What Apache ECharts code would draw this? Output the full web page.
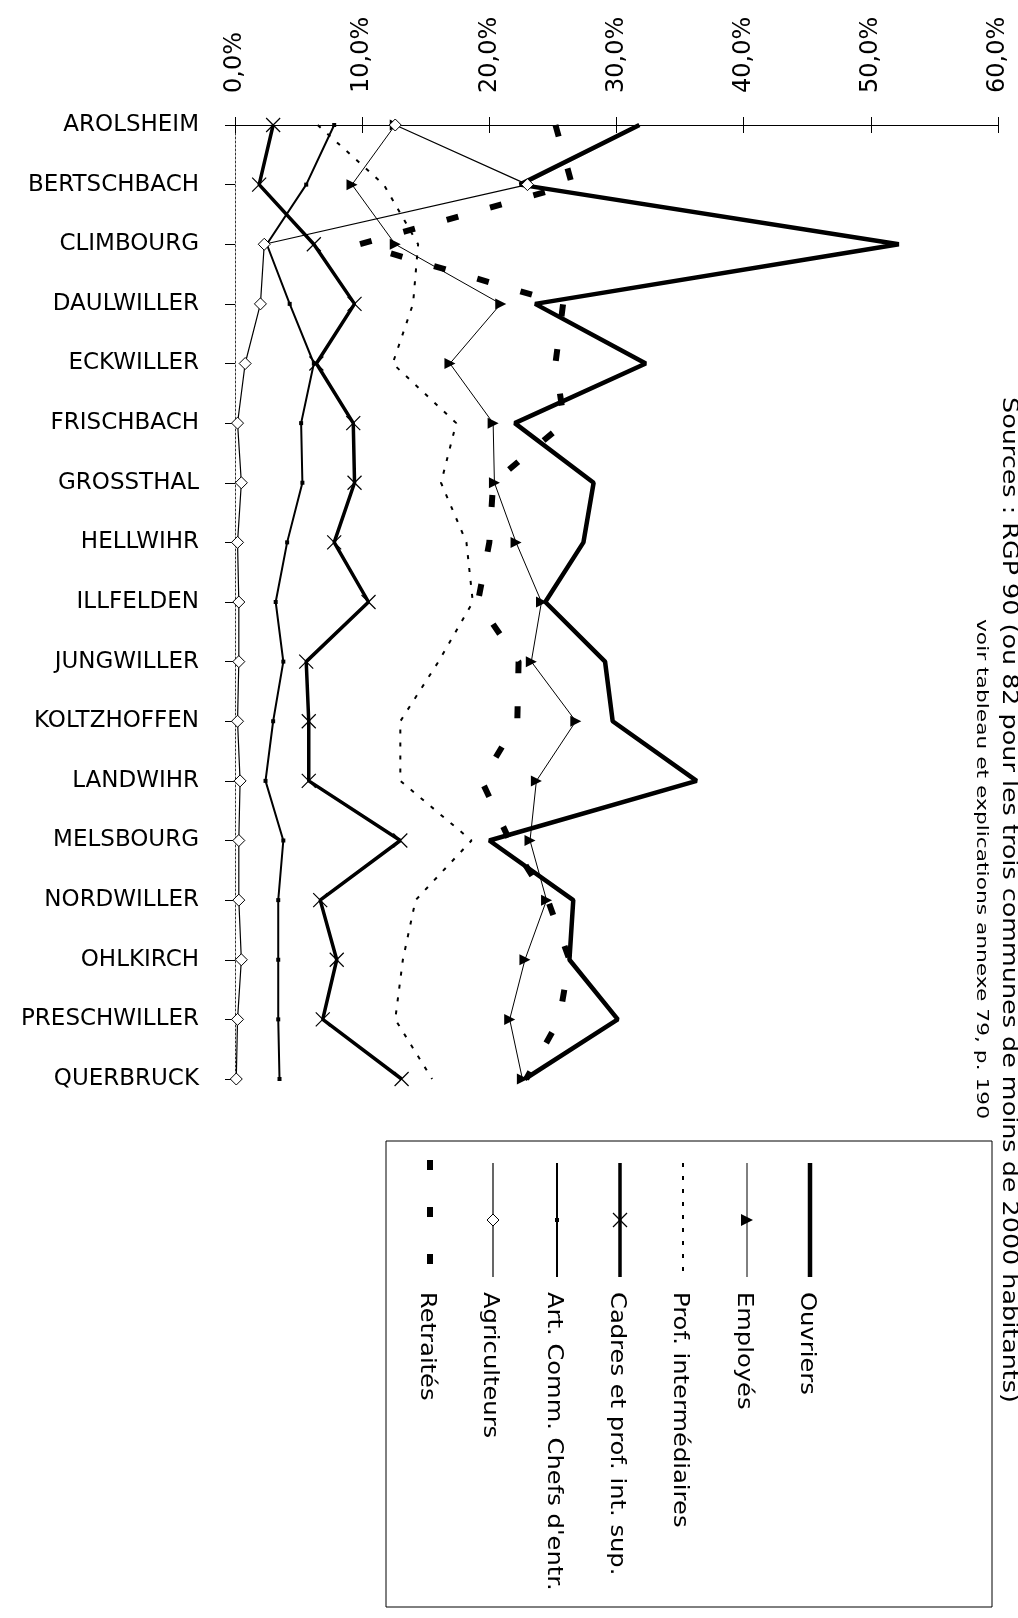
<!DOCTYPE html>
<html><head><meta charset="utf-8">
<script src="https://cdn.jsdelivr.net/npm/echarts/dist/echarts.min.js"></script>
<style>html,body{margin:0;padding:0;background:#fff}#c{width:1018px;height:1618px}</style>
</head><body><div id="c"></div>
<script>
// ---- data ----
const communes = ['AROLSHEIM','BERTSCHBACH','CLIMBOURG','DAULWILLER','ECKWILLER','FRISCHBACH','GROSSTHAL','HELLWIHR','ILLFELDEN','JUNGWILLER','KOLTZHOFFEN','LANDWIHR','MELSBOURG','NORDWILLER','OHLKIRCH','PRESCHWILLER','QUERBRUCK'];
const tickLabels = ['0,0%','10,0%','20,0%','30,0%','40,0%','50,0%','60,0%'];
const seriesNames = ['Ouvriers','Employés','Prof. intermédiaires','Cadres et prof. int. sup.',"Art. Comm. Chefs d'entr.",'Agriculteurs','Retraités'];
const ouvriers     = [31.8,22.4,52.2,23.6,32.3,22.0,28.2,27.4,24.4,29.1,29.7,36.3,20.0,26.6,26.3,30.1,22.8];
const employes     = [12.6,9.2,12.6,20.9,16.9,20.3,20.4,22.1,24.1,23.3,26.8,23.7,23.2,24.5,22.8,21.6,22.6];
const profInter    = [6.5,11.7,14.4,14.0,12.4,17.4,16.2,18.2,18.7,16.0,13.0,13.0,18.6,14.2,13.2,12.6,15.5];
const cadres       = [3.0,1.9,6.2,9.4,6.4,9.3,9.4,7.8,10.5,5.6,5.8,5.8,13.0,6.7,8.0,6.9,13.1];
const artComm      = [7.8,5.6,2.5,4.3,6.2,5.2,5.3,4.1,3.2,3.8,3.0,2.4,3.8,3.4,3.4,3.4,3.5];
const agriculteurs = [12.6,23.0,2.3,2.0,0.8,0.2,0.5,0.2,0.3,0.3,0.2,0.4,0.3,0.3,0.5,0.2,0.1];
const retraites    = [25.2,26.5,9.8,25.8,25.2,25.9,20.3,20.0,19.1,22.3,22.2,19.4,21.6,24.6,26.3,25.5,22.9];
const titleText = 'Sources : RGP 90 (ou 82 pour les trois communes de moins de 2000 habitants)';
const subtitleText = 'voir tableau et explications annexe 79, p. 190';

// ---- chart ----
const FONT = '"DejaVu Sans", "Liberation Sans", sans-serif';
const ctx = document.createElement('canvas').getContext('2d');
function textW(t, size){ ctx.font = size + 'px ' + FONT; return ctx.measureText(t).width; }

const chart = echarts.init(document.getElementById('c'));
const X_PATH = 'path://M0,0L10,10M10,0L0,10';

const styles = [
  {lineStyle:{color:'#000',width:4.5}, symbol:'none', z:8},
  {lineStyle:{color:'#000',width:1}, symbol:'triangle', symbolSize:11, symbolRotate:-90, itemStyle:{color:'#000'}, z:6},
  {lineStyle:{color:'#000',width:2,type:[4,9]}, symbol:'none', z:5},
  {lineStyle:{color:'#000',width:3.5}, symbol:X_PATH, symbolSize:14, itemStyle:{color:'transparent',borderColor:'#000',borderWidth:1.2}, z:7},
  {lineStyle:{color:'#000',width:2}, symbol:'rect', symbolSize:[4,4], itemStyle:{color:'#000'}, z:4},
  {lineStyle:{color:'#000',width:1.2}, symbol:'diamond', symbolSize:12, itemStyle:{color:'#fff',borderColor:'#000',borderWidth:1}, z:9},
  {lineStyle:{color:'#000',width:6,type:[12,33],cap:'butt'}, symbol:'none', z:3}
];
const datas = [ouvriers, employes, profInter, cadres, artComm, agriculteurs, retraites];

const series = datas.map((d,i)=>Object.assign({
  type:'line', name:seriesNames[i], data:d, showSymbol:true, showAllSymbol:true, animation:false
}, styles[i]));

// legend drawn as rotated graphic items
const legX = [810, 747, 683, 620, 557, 493, 430];
const y1 = 1163, y2 = 1277, ym = 1220, ty = 1292;
const graphics = [];
graphics.push({type:'rect', shape:{x:386,y:1141,width:606,height:466}, style:{fill:'none',stroke:'#000',lineWidth:1}});
seriesNames.forEach((nm,i)=>{
  const x = legX[i];
  const st = styles[i].lineStyle;
  const dash = Array.isArray(st.type) ? st.type : null;
  if (i === 6) {
    graphics.push({type:'line', shape:{x1:x,y1:1160,x2:x,y2:1270}, style:{stroke:'#000',lineWidth:6,lineDash:[10,37],lineCap:'butt'}});
  } else {
    graphics.push({type:'line', shape:{x1:x,y1:y1,x2:x,y2:y2}, style:{stroke:'#000',lineWidth:st.width,lineDash:dash,lineCap:'butt'}});
  }
  if (i === 1) graphics.push({type:'polygon', shape:{points:[[x-6,ym-6],[x+6,ym],[x-6,ym+6]]}, style:{fill:'#000'}});
  if (i === 3) {
    graphics.push({type:'line', shape:{x1:x-7,y1:ym-7,x2:x+7,y2:ym+7}, style:{stroke:'#000',lineWidth:1.2}});
    graphics.push({type:'line', shape:{x1:x+7,y1:ym-7,x2:x-7,y2:ym+7}, style:{stroke:'#000',lineWidth:1.2}});
  }
  if (i === 4) graphics.push({type:'rect', shape:{x:x-2,y:ym-2,width:4,height:4}, style:{fill:'#000'}});
  if (i === 5) graphics.push({type:'polygon', shape:{points:[[x,ym-6],[x+6,ym],[x,ym+6],[x-6,ym]]}, style:{fill:'#fff',stroke:'#000',lineWidth:1}});
  graphics.push({type:'text', x:x-3, y:ty, rotation:-Math.PI/2, scaleX:1.1, z:10,
    style:{text:nm, x:0, y:0, font:'22px '+FONT, fill:'#000', align:'left', verticalAlign:'middle', textAlign:'left', textVerticalAlign:'middle'}});
});
const titleScale = 1006 / textW(titleText, 22);
const subScale = 500 / textW(subtitleText, 15);
graphics.push({type:'text', x:1009, y:397, rotation:-Math.PI/2, scaleX:titleScale,
  style:{text:titleText, x:0, y:0, font:'22px '+FONT, fill:'#000', align:'left', verticalAlign:'middle', textAlign:'left', textVerticalAlign:'middle'}});
graphics.push({type:'text', x:981, y:619, rotation:-Math.PI/2, scaleX:subScale,
  style:{text:subtitleText, x:0, y:0, font:'15px '+FONT, fill:'#000', align:'left', verticalAlign:'middle', textAlign:'left', textVerticalAlign:'middle'}});

chart.setOption({
  animation:false,
  backgroundColor:'#fff',
  grid:{left:235, right:20, top:125, height:954},
  xAxis:[{
    type:'value', position:'top', min:0, max:60, interval:10,
    axisLine:{show:true, lineStyle:{color:'#000', width:1}},
    axisTick:{show:true, length:8, lineStyle:{color:'#000'}},
    splitLine:{show:false},
    axisLabel:{rotate:-90, margin:32, color:'#000', fontSize:24, fontFamily:FONT,
      formatter:(v)=>tickLabels[Math.round(v/10)]}
  },{
    type:'value', position:'top', min:0, max:60, interval:10,
    axisLine:{show:false}, axisLabel:{show:false}, splitLine:{show:false},
    axisTick:{show:true, inside:true, length:8, lineStyle:{color:'#000'}}
  }],
  yAxis:{
    type:'category', data:communes, inverse:true, boundaryGap:false,
    axisLine:{show:true, lineStyle:{color:'#333', width:1, type:[2,2]}},
    axisTick:{show:true, length:10, lineStyle:{color:'#000'}},
    splitLine:{show:false},
    axisLabel:{margin:36, color:'#000', fontSize:23, fontFamily:FONT, padding:[0,0,16,0], interval:0}
  },
  series: series,
  graphic: graphics
});
</script>
</body></html>
